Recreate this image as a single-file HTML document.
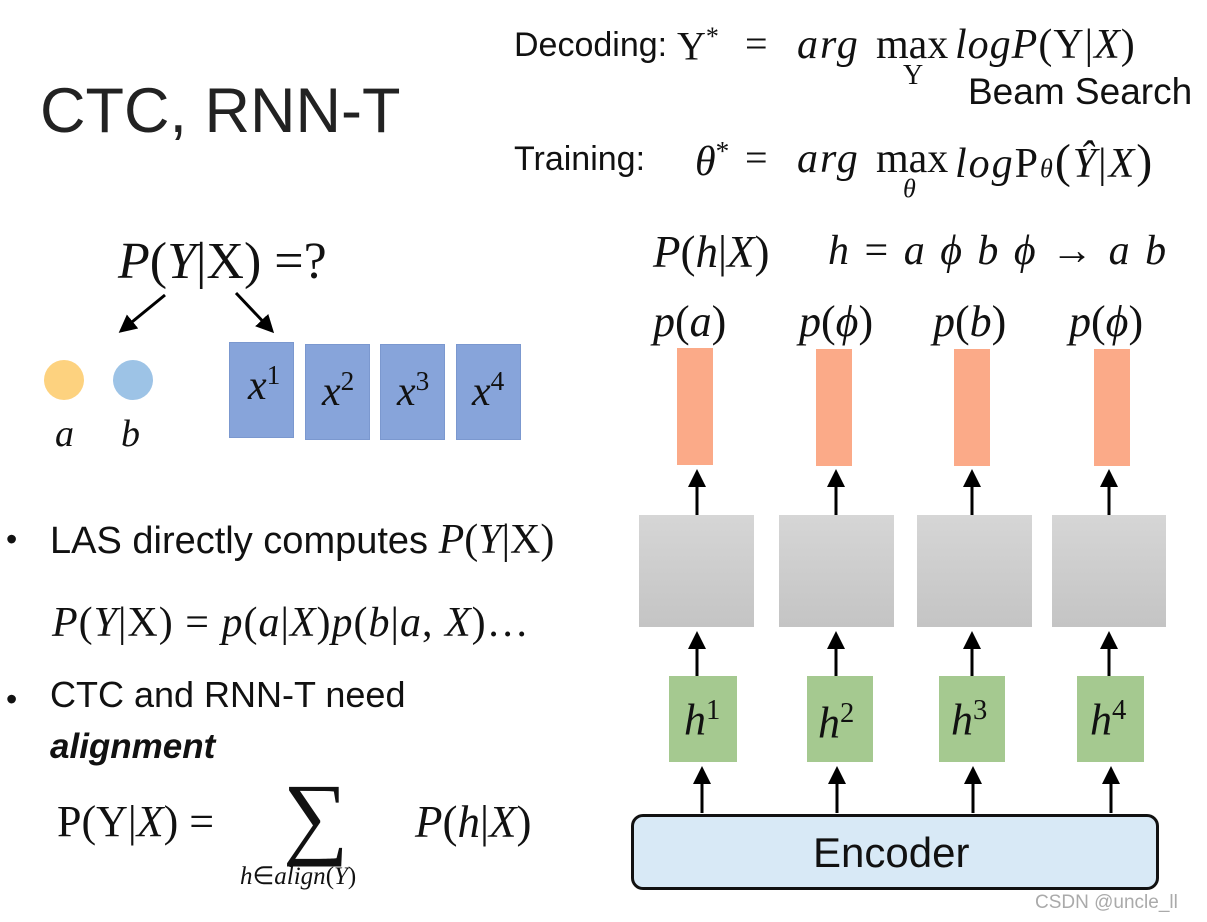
<!DOCTYPE html>
<html><head><meta charset="utf-8"><style>
body{margin:0;width:1207px;height:922px;background:#fff;position:relative;overflow:hidden;font-family:"Liberation Sans",sans-serif;color:#111}
.t{position:absolute;white-space:nowrap;line-height:1}
.m{font-family:"Liberation Serif",serif;font-style:italic}
.r{font-family:"Liberation Serif",serif;font-style:normal}
.b{position:absolute}
sup{font-size:0.65em;vertical-align:0.55em;font-style:normal}
</style></head><body>
<div class="t" style="left:40px;top:80px;font-size:63px;color:#222">CTC, RNN-T</div>

<div class="t" style="left:514px;top:28px;font-size:34px">Decoding:</div>
<div class="t r" style="left:677px;top:24px;font-size:40px">Y<sup>*</sup></div>
<div class="t r" style="left:745px;top:24px;font-size:40px">=</div>
<div class="t m" style="left:797px;top:24px;font-size:42px;letter-spacing:2px">arg</div>
<div class="t r" style="left:876px;top:24px;font-size:42px">max</div>
<div class="t m" style="left:955px;top:24px;font-size:42px;letter-spacing:1px">logP<span class="r">(Y|</span>X<span class="r">)</span></div>
<div class="t r" style="left:903px;top:62px;font-size:28px">Y</div>
<div class="t" style="left:968px;top:73px;font-size:37px">Beam Search</div>

<div class="t" style="left:514px;top:142px;font-size:34px">Training:</div>
<div class="t m" style="left:695px;top:138px;font-size:42px">θ<span class="r"><sup>*</sup></span></div>
<div class="t r" style="left:745px;top:138px;font-size:40px">=</div>
<div class="t m" style="left:797px;top:138px;font-size:42px;letter-spacing:2px">arg</div>
<div class="t r" style="left:876px;top:138px;font-size:42px">max</div>
<div class="t m" style="left:955px;top:138px;font-size:42px;letter-spacing:2px">log<span class="r">P</span><span style="font-size:26px">θ</span><span class="r" style="font-size:48px">(</span>Ŷ<span class="r">|</span>X<span class="r" style="font-size:48px">)</span></div>
<div class="t m" style="left:903px;top:176px;font-size:26px">θ</div>

<div class="t m" style="left:653px;top:230px;font-size:45px">P<span class="r">(</span>h<span class="r">|</span>X<span class="r">)</span></div>
<div class="t m" style="left:828px;top:230px;font-size:42px;word-spacing:5px">h <span class="r">=</span> a ϕ b ϕ <span class="r">→</span> a b</div>
<div class="t m" style="left:653px;top:300px;font-size:44px">p<span class="r">(</span>a<span class="r">)</span></div>
<div class="t m" style="left:799px;top:300px;font-size:44px">p<span class="r">(</span>ϕ<span class="r">)</span></div>
<div class="t m" style="left:933px;top:300px;font-size:44px">p<span class="r">(</span>b<span class="r">)</span></div>
<div class="t m" style="left:1069px;top:300px;font-size:44px">p<span class="r">(</span>ϕ<span class="r">)</span></div>

<div class="b" style="left:677px;top:348px;width:36px;height:117px;background:#fbaa88"></div>
<div class="b" style="left:816px;top:349px;width:36px;height:117px;background:#fbaa88"></div>
<div class="b" style="left:954px;top:349px;width:36px;height:117px;background:#fbaa88"></div>
<div class="b" style="left:1094px;top:349px;width:36px;height:117px;background:#fbaa88"></div>

<div class="b" style="left:639px;top:515px;width:115px;height:112px;background:linear-gradient(#d6d6d6,#c4c4c4)"></div>
<div class="b" style="left:779px;top:515px;width:115px;height:112px;background:linear-gradient(#d6d6d6,#c4c4c4)"></div>
<div class="b" style="left:917px;top:515px;width:115px;height:112px;background:linear-gradient(#d6d6d6,#c4c4c4)"></div>
<div class="b" style="left:1052px;top:515px;width:114px;height:112px;background:linear-gradient(#d6d6d6,#c4c4c4)"></div>

<div class="b" style="left:669px;top:676px;width:68px;height:86px;background:#a5c990"></div>
<div class="b" style="left:807px;top:676px;width:66px;height:86px;background:#a5c990"></div>
<div class="b" style="left:939px;top:676px;width:66px;height:86px;background:#a5c990"></div>
<div class="b" style="left:1077px;top:676px;width:67px;height:86px;background:#a5c990"></div>
<div class="t m" style="left:684px;top:697px;font-size:44px">h<sup>1</sup></div>
<div class="t m" style="left:818px;top:700px;font-size:44px">h<sup>2</sup></div>
<div class="t m" style="left:951px;top:697px;font-size:44px">h<sup>3</sup></div>
<div class="t m" style="left:1090px;top:697px;font-size:44px">h<sup>4</sup></div>

<div class="b" style="left:631px;top:814px;width:522px;height:70px;border:3px solid #111;border-radius:12px;background:#d8e9f6"></div>
<div class="t" style="left:813px;top:832px;font-size:42px">Encoder</div>

<svg class="b" style="left:0;top:0" width="1207" height="922">
<defs><marker id="a" markerWidth="6" markerHeight="6" refX="5" refY="3" orient="auto"><path d="M0,0 L6,3 L0,6 z" fill="#000"/></marker></defs>
<g stroke="#000" stroke-width="3" marker-end="url(#a)">
<line x1="697" y1="515" x2="697" y2="472"/><line x1="836" y1="515" x2="836" y2="472"/><line x1="972" y1="515" x2="972" y2="472"/><line x1="1109" y1="515" x2="1109" y2="472"/>
<line x1="697" y1="676" x2="697" y2="634"/><line x1="836" y1="676" x2="836" y2="634"/><line x1="972" y1="676" x2="972" y2="634"/><line x1="1109" y1="676" x2="1109" y2="634"/>
<line x1="702" y1="813" x2="702" y2="769"/><line x1="837" y1="813" x2="837" y2="769"/><line x1="973" y1="813" x2="973" y2="769"/><line x1="1111" y1="813" x2="1111" y2="769"/>
<line x1="165" y1="295" x2="121" y2="331"/><line x1="236" y1="293" x2="272" y2="331"/>
</g>
<circle cx="64" cy="380" r="20" fill="#fdd27f"/>
<circle cx="133" cy="380" r="20" fill="#9dc3e6"/>
</svg>

<div class="t m" style="left:118px;top:236px;font-size:52px">P<span class="r">(</span>Y<span class="r">|X) =?</span></div>
<div class="t m" style="left:55px;top:415px;font-size:38px">a</div>
<div class="t m" style="left:121px;top:415px;font-size:38px">b</div>

<div class="b" style="left:229px;top:342px;width:65px;height:96px;background:#87a4da;border:1px solid #7b98cf;box-sizing:border-box"></div>
<div class="b" style="left:305px;top:344px;width:65px;height:96px;background:#87a4da;border:1px solid #7b98cf;box-sizing:border-box"></div>
<div class="b" style="left:380px;top:344px;width:65px;height:96px;background:#87a4da;border:1px solid #7b98cf;box-sizing:border-box"></div>
<div class="b" style="left:456px;top:344px;width:65px;height:96px;background:#87a4da;border:1px solid #7b98cf;box-sizing:border-box"></div>
<div class="t m" style="left:248px;top:362px;font-size:42px">x<sup>1</sup></div>
<div class="t m" style="left:322px;top:368px;font-size:42px">x<sup>2</sup></div>
<div class="t m" style="left:397px;top:368px;font-size:42px">x<sup>3</sup></div>
<div class="t m" style="left:472px;top:368px;font-size:42px">x<sup>4</sup></div>

<div class="t" style="left:6px;top:523px;font-size:32px">•</div>
<div class="t" style="left:50px;top:519px;font-size:38px">LAS directly computes <span class="m" style="font-size:42px">P<span class="r">(</span>Y<span class="r">|X)</span></span></div>
<div class="t m" style="left:52px;top:602px;font-size:42px;letter-spacing:1px">P<span class="r">(</span>Y<span class="r">|X) =</span> p<span class="r">(</span>a<span class="r">|</span>X<span class="r">)</span>p<span class="r">(</span>b<span class="r">|</span>a<span class="r">,</span> X<span class="r">)…</span></div>
<div class="t" style="left:6px;top:683px;font-size:32px">•</div>
<div class="t" style="left:50px;top:677px;font-size:36px">CTC and RNN-T need</div>
<div class="t" style="left:50px;top:729px;font-size:35px;font-weight:bold;font-style:italic">alignment</div>
<div class="t r" style="left:57px;top:800px;font-size:44px">P(Y|<span class="m">X</span>) =</div>
<div class="t r" style="left:283px;top:770px;font-size:92px">∑</div>
<div class="t m" style="left:240px;top:864px;font-size:25px">h<span class="r">∈</span>align<span class="r">(</span>Y<span class="r">)</span></div>
<div class="t m" style="left:415px;top:800px;font-size:45px">P<span class="r">(</span>h<span class="r">|</span>X<span class="r">)</span></div>
<div class="t" style="left:1035px;top:893px;font-size:19px;color:#aaa">CSDN @uncle_ll</div>
</body></html>
